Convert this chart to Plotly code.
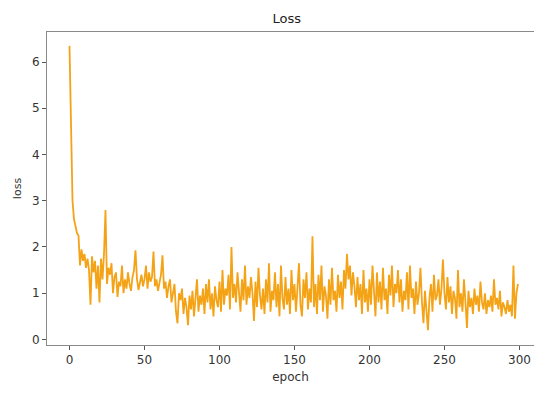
import plotly.graph_objects as go

# Training loss per epoch
epochs = list(range(300))
loss = [
    6.35, 4.2, 3.0, 2.6, 2.4, 2.3, 2.25, 1.6, 1.95, 1.7,
    1.85, 1.55, 1.75, 1.5, 0.75, 1.8, 1.45, 1.7, 1.1, 1.6,
    0.8, 1.75, 1.3, 1.85, 2.8, 1.2, 1.55, 1.4, 1.65, 1.0,
    1.35, 1.45, 0.92, 1.25, 1.15, 1.6, 1.0, 1.3, 1.1, 1.45,
    1.2, 1.05, 1.35, 1.5, 1.93, 1.3, 1.07, 1.25, 1.4, 1.15,
    1.3, 1.6, 1.1, 1.45, 1.25, 1.35, 1.9, 1.15, 1.3, 1.05,
    1.2, 1.4, 1.82, 1.1, 1.25, 0.9, 1.15, 1.3, 0.8, 1.05,
    1.2, 0.6, 0.35, 1.0, 0.85, 1.1, 0.55, 0.9, 0.7, 0.31,
    0.95, 0.65, 1.05, 0.5, 0.85, 1.3, 0.6, 0.95, 0.75, 1.1,
    0.55, 1.2, 0.8, 1.3, 0.65, 1.0, 0.5, 1.15, 0.85, 0.7,
    1.25, 0.6, 1.5, 0.75, 1.1, 0.95, 1.4, 0.65, 2.0, 0.9,
    1.2, 0.8, 1.45, 1.05, 0.6, 1.3, 0.85, 1.6, 0.75, 1.15,
    0.9, 1.35, 1.0, 0.4, 1.25, 0.7, 1.55, 0.95, 0.65, 1.1,
    0.55, 1.3, 0.8, 1.65, 0.6, 1.05, 0.85, 1.45, 0.7, 1.2,
    0.5, 1.6, 0.9, 0.65, 1.35, 0.75, 1.1, 0.55, 1.5, 0.85,
    1.2, 0.6, 1.05, 1.65, 0.75, 0.5, 1.3, 0.9, 1.45, 0.65,
    1.1, 0.8, 2.23, 0.7, 1.2, 0.55, 1.4, 0.85, 1.6, 0.6,
    1.15, 0.95, 0.45, 1.3, 0.75, 1.55, 0.85, 1.05, 0.6, 1.4,
    0.9, 1.25, 0.65, 1.5, 1.1, 1.85, 1.3, 1.6, 0.95, 1.45,
    1.15, 0.7, 1.35, 0.85, 1.2, 0.55, 1.5, 0.8, 1.1, 0.6,
    1.3, 0.75, 1.6, 0.9, 0.5, 1.45, 0.8, 1.25, 0.65, 1.55,
    0.85, 1.1, 0.55, 1.4, 0.95, 1.6, 0.7, 1.2, 1.0, 1.5,
    0.8, 1.3, 0.6, 1.05, 0.85, 1.45, 0.65, 1.6, 0.9, 1.1,
    0.55, 1.25, 0.75, 1.0, 1.55, 0.8, 0.35, 1.05, 0.7, 0.2,
    0.9, 1.2, 0.6, 1.4, 0.85, 0.95, 1.3, 0.75, 1.1, 1.73,
    1.0, 0.65, 1.35, 0.8, 1.15, 0.55, 1.05, 0.9, 0.45, 1.5,
    0.7, 1.0, 0.6, 1.3, 0.8, 0.25, 1.05, 0.7, 0.9, 0.55,
    1.1, 0.75, 0.95, 0.6, 1.25, 0.8, 0.65, 1.0, 0.55, 0.85,
    0.7, 0.95, 0.6, 1.3, 0.75, 0.9, 0.65, 1.05, 0.5, 0.8,
    0.7, 0.55, 0.85, 0.6, 0.75, 0.5, 1.6, 0.45, 1.0, 1.2,
]

x_ticks = [0, 50, 100, 150, 200, 250, 300]
y_ticks = [0, 1, 2, 3, 4, 5, 6]

fig = go.Figure(
    go.Scatter(
        x=epochs,
        y=loss,
        mode="lines",
        line=dict(color="#f5a316", width=1.8),
        showlegend=False,
    )
)

axis_common = dict(
    showline=True,
    linecolor="#8a8a8a",
    linewidth=1,
    showgrid=False,
    zeroline=False,
    ticks="outside",
    ticklen=4,
    tickcolor="#555555",
    tickfont=dict(family="DejaVu Sans", size=12, color="#333333"),
)

fig.update_layout(
    width=534,
    height=401,
    margin=dict(l=47, r=0, t=32, b=56),
    paper_bgcolor="white",
    plot_bgcolor="white",
    title=dict(
        text="Loss",
        x=0.537,
        xanchor="center",
        y=0.955,
        yanchor="middle",
        font=dict(family="DejaVu Sans", size=13, color="#222222"),
    ),
    xaxis=dict(
        range=[-15, 309.7],
        tickvals=x_ticks,
        ticktext=[str(v) for v in x_ticks],
        mirror=True,
        title=dict(text="epoch", font=dict(family="DejaVu Sans", size=12, color="#333333"), standoff=6),
        **axis_common,
    ),
    yaxis=dict(
        range=[-0.12, 6.65],
        tickvals=y_ticks,
        ticktext=[str(v) for v in y_ticks],
        mirror=False,
        title=dict(text="loss", font=dict(family="DejaVu Sans", size=11, color="#333333"), standoff=8),
        **axis_common,
    ),
)

fig.write_html("out.html")
